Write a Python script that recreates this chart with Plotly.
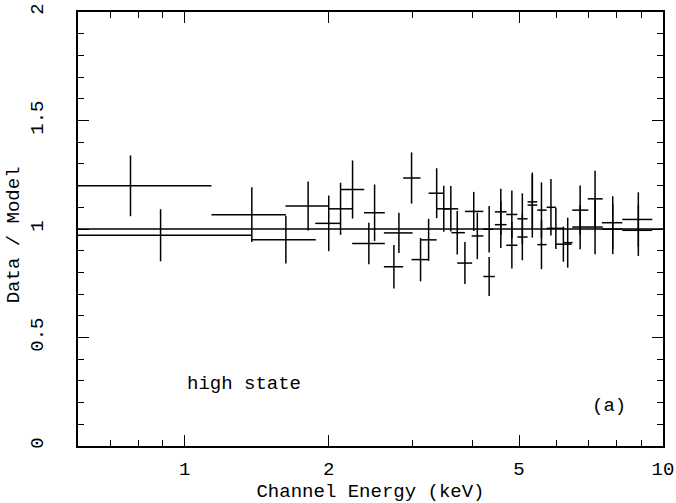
import plotly.graph_objects as go

# Energy bins (keV): centre, low edge, high edge
e_mid = [0.770, 0.890, 1.381, 1.627, 1.811, 2.000, 2.117, 2.243, 2.426, 2.494,
         2.737, 2.804, 2.980, 3.112, 3.235, 3.363, 3.480, 3.600, 3.713, 3.853,
         4.02, 4.09, 4.33, 4.33, 4.58, 4.58, 4.83, 4.83, 5.08, 5.08,
         5.33, 5.33, 5.57, 5.57, 5.83, 5.97, 6.19, 6.32, 6.71, 6.71,
         7.21, 7.21, 7.85, 7.85, 8.88, 8.88]
e_lo = [0.50, 0.50, 1.137, 1.381, 1.624, 1.874, 2.000, 2.117, 2.239, 2.370,
        2.608, 2.608, 2.862, 2.980, 3.112, 3.235, 3.363, 3.480, 3.610, 3.713,
        3.853, 3.98, 4.21, 4.21, 4.45, 4.45, 4.70, 4.70, 4.96, 4.96,
        5.21, 5.21, 5.46, 5.46, 5.71, 5.71, 5.97, 6.19, 6.46, 6.46,
        6.96, 6.96, 7.45, 7.45, 8.22, 8.22]
e_hi = [1.137, 1.379, 1.627, 1.879, 2.000, 2.113, 2.243, 2.372, 2.620, 2.620,
        2.862, 2.995, 3.112, 3.240, 3.363, 3.480, 3.607, 3.731, 3.853, 3.990,
        4.21, 4.21, 4.42, 4.45, 4.71, 4.71, 4.96, 4.96, 5.21, 5.21,
        5.46, 5.46, 5.71, 5.71, 5.97, 6.19, 6.44, 6.47, 6.98, 6.98,
        7.48, 7.48, 8.22, 8.22, 9.50, 9.50]
ratio = [1.199, 0.971, 1.066, 0.951, 1.106, 1.026, 1.093, 1.182, 0.933, 1.075,
         0.826, 0.982, 1.235, 0.859, 0.950, 1.165, 1.093, 1.093, 0.983, 0.843,
         1.081, 0.968, 0.999, 0.781, 1.079, 1.020, 1.067, 0.925, 1.047, 0.963,
         1.125, 1.110, 1.087, 0.928, 1.100, 1.003, 0.930, 0.937, 1.087, 1.009,
         1.139, 1.009, 1.029, 0.999, 1.044, 0.994]
ratio_err = [0.140, 0.120, 0.126, 0.110, 0.113, 0.128, 0.120, 0.134, 0.096, 0.130,
             0.100, 0.093, 0.118, 0.100, 0.097, 0.115, 0.106, 0.105, 0.100, 0.097,
             0.090, 0.107, 0.107, 0.090, 0.107, 0.108, 0.110, 0.107, 0.117, 0.107,
             0.126, 0.150, 0.128, 0.113, 0.130, 0.095, 0.081, 0.115, 0.113, 0.102,
             0.130, 0.125, 0.122, 0.115, 0.125, 0.118]

model_x = [0.5, 11.0]
model_y = [1.0, 1.0]

x_major = [1, 2, 5, 10]
x_major_text = ["1", "2", "5", "10"]
x_minor = [0.6, 0.7, 0.8, 0.9, 3, 4, 6, 7, 8, 9]
y_major = [0, 0.5, 1, 1.5, 2]
y_major_text = ["0", "0.5", "1", "1.5", "2"]

err_plus = [h - m for h, m in zip(e_hi, e_mid)]
err_minus = [m - l for m, l in zip(e_mid, e_lo)]

FONT = "Liberation Mono"

fig = go.Figure()
fig.add_trace(go.Scatter(x=model_x, y=model_y, mode="lines",
                         line=dict(color="black", width=1.5),
                         showlegend=False, hoverinfo="skip"))
fig.add_trace(go.Scatter(
    x=e_mid, y=ratio, mode="markers",
    marker=dict(size=0.1, color="black"),
    error_x=dict(type="data", symmetric=False, array=err_plus,
                 arrayminus=err_minus, width=0, thickness=1.5, color="black"),
    error_y=dict(type="data", array=ratio_err, width=0, thickness=1.5,
                 color="black"),
    showlegend=False))

fig.add_annotation(x=0.183, y=0.114, xref="paper", yref="paper",
                   text="high state", showarrow=False, xanchor="left",
                   font=dict(family=FONT, size=19, color="black"))
fig.add_annotation(x=0.908, y=0.063, xref="paper", yref="paper",
                   text="(a)", showarrow=False, xanchor="center",
                   font=dict(family=FONT, size=19, color="black"))
# y-axis title placed as a rotated annotation
fig.add_annotation(x=-0.11, y=0.487, xref="paper", yref="paper",
                   text="Data / Model", showarrow=False, textangle=-90,
                   xanchor="center", yanchor="middle",
                   font=dict(family=FONT, size=19, color="black"))

fig.update_xaxes(type="log", range=[-0.2233, 1.0],
                 tickvals=x_major, ticktext=x_major_text,
                 ticks="inside", ticklen=11, tickwidth=1.2, tickcolor="black",
                 minor=dict(tickvals=x_minor, ticks="inside", ticklen=6,
                            tickwidth=1.2, tickcolor="black"),
                 showline=True, linecolor="black", linewidth=1.5, mirror="ticks",
                 showgrid=False, zeroline=False,
                 tickfont=dict(family=FONT, size=19, color="black"),
                 ticklabelstandoff=4, ticklabeloverflow="allow",
                 title=dict(text="Channel Energy (keV)", standoff=12,
                            font=dict(family=FONT, size=19, color="black")),
                 automargin=False)
fig.update_yaxes(range=[0, 2], tickvals=y_major, ticktext=y_major_text,
                 ticks="inside", ticklen=11, tickwidth=1.2, tickcolor="black",
                 minor=dict(dtick=0.1, ticks="inside", ticklen=6,
                            tickwidth=1.2, tickcolor="black"),
                 showline=True, linecolor="black", linewidth=1.5, mirror="ticks",
                 showgrid=False, zeroline=False, tickangle=-90,
                 tickfont=dict(family=FONT, size=19, color="black"),
                 ticklabelstandoff=26, ticklabeloverflow="allow",
                 automargin=False)

fig.update_layout(width=676, height=503,
                  margin=dict(l=78, r=13, t=12, b=57),
                  paper_bgcolor="white", plot_bgcolor="white")

# remove the browser's default 8px body margin so the figure fills the window
fig.write_html("out.html",
               config={"displayModeBar": False},
               post_script="document.body.style.margin='0';"
                           "document.body.style.overflow='hidden';")
